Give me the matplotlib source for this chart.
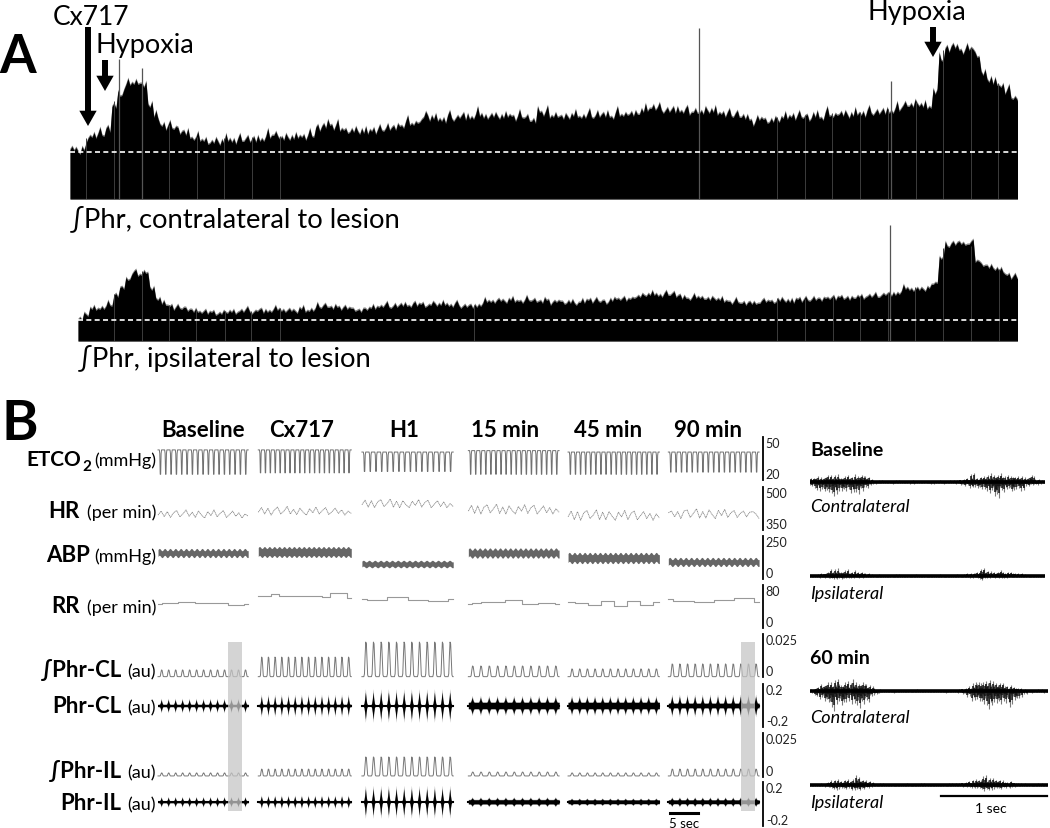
import numpy as np
import matplotlib
matplotlib.use('Agg')
import matplotlib.pyplot as plt

plt.rcParams['font.family'] = ['Lato', 'DejaVu Sans']

# Panel A, envelope heights of the two long integrated traces
env_cl = [53,50,52,65,66,67,72,95,106,115,118,119,116,97,85,76,74,74,70,68,64,62,61,59,60,59,62,60,61,62,
          62,61,63,65,67,63,64,63,65,64,66,73,75,77,74,72,70,71,70,69,71,70,72,74,73,76,78,77,80,86,
          83,82,81,84,82,86,83,85,87,84,86,85,84,86,83,85,83,80,90,88,85,86,84,85,86,84,86,85,87,86,
          85,87,86,88,87,90,92,94,92,90,92,90,91,88,90,89,91,90,88,87,86,87,84,82,78,83,80,81,82,84,
          85,84,85,83,86,84,87,85,88,87,86,88,87,89,88,90,89,91,92,97,96,98,95,94,110,142,152,155,152,
          150,153,146,128,122,118,115,110,104,98]
env_il = [24,28,34,34,35,38,47,55,63,70,68,71,54,44,39,37,34,35,33,32,31,30,31,29,30,31,30,32,32,30,
          33,31,32,34,32,33,31,34,32,33,36,37,35,36,34,35,33,32,34,35,36,37,36,37,38,37,38,39,37,39,
          38,39,37,38,36,37,36,38,42,41,43,41,43,42,41,43,42,41,43,39,42,40,41,39,41,43,41,42,40,43,
          44,43,44,46,47,48,49,47,48,49,47,45,44,46,45,44,44,43,42,40,41,39,40,39,41,42,41,43,42,41,
          44,42,43,44,43,45,44,46,45,44,46,45,47,46,47,49,48,50,55,53,54,53,55,60,85,97,99,100,98,
          100,82,78,76,74,72,68,65,65]
# small ripple along the top edge, one value every third of an envelope step
edge_cl = [-2,1,-3,3,-1,-4,2,-2,5,-3,0,-2,2,-4,1,6,-2,-3,0,3,-4,-1,2,-3,4,-2,-1,-4,1,7,-3,0,-2,2,-3]
edge_il = [-1,1,-2,2,0,-2,1,-1,3,-2,0,-1,1,-2,1,4,-1,-2,0,2,-2,0,1,-2,2,-1,0,-2,1,3,-2,0,-1,1,-2]
ticks_cl = [2.7,7.3,12,16.5,21.2,25.7,30.3,35,118,122.7,127.2,131.8,136.5,141.2,145.7,150.3,154.8]
ticks_il = [6,10.7,15.2,19.8,24.5,29,33.7,66.2,116.8,121.5,126.2,130.8,135.5,140,144.7,149.3,154]
spike_cl_x = [8.2,12,105,137]
spike_cl_top = [140,131,171,118]
spike_il_x = [135.8]
spike_il_top = [116]
dash_cl = 47
dash_il = 21

# Panel B, one entry per column
columns = ['Baseline','Cx717','H1','15 min','45 min','90 min']
seg_start = [0,17.9,36.4,55.4,73.2,91.1]
seg_end = [16.1,34.5,52.7,71.6,89.5,107.3]

etco2_top = [41,41,39.5,40.5,39.5,39.5]
etco2_low = [24,25,26,24,24,25.5]
etco2_n = [17,19,16,18,18,17]
etco2_shape = [0,0,0,0,0.15,1,1,0.15,0,0,0,0]

hr_baseline = [402,416,397,414,394,410,418,396,406,420,398,412,394,416,402,392,414,400,420,396,408,418,394,404,416,398,410,392,406,398]
hr_cx717 = [412,428,406,426,402,420,430,406,416,432,406,422,404,426,412,402,424,410,430,406,418,428,404,414,426,408,420,402,416,408]
hr_h1 = [438,454,430,452,428,448,456,432,442,458,430,450,428,452,438,428,450,436,456,430,446,454,428,440,452,432,448,428,442,432]
hr_15 = [416,436,408,434,406,430,438,410,424,440,408,430,406,434,418,406,432,416,438,408,428,436,406,420,434,410,428,406,424,412]
hr_45 = [396,416,386,414,384,410,418,390,402,420,386,412,386,414,398,384,412,396,418,386,408,416,386,400,414,390,408,384,406,392]
hr_90 = [410,416,396,414,390,416,420,394,408,424,392,414,392,420,404,390,418,400,422,394,410,418,394,408,416,396,412,414,406,390]
hr_traces = [hr_baseline,hr_cx717,hr_h1,hr_15,hr_45,hr_90]

abp_mean = [151,157,87,151,122,99]
abp_half = [20,26,17,23,26,20]
abp_swing = [7,6,5,7,7,7]
abp_n = [17,19,16,18,18,17]
abp_shape = [0,0.7,1,0.7,0,-0.7,-1,-0.7]

rr_baseline = [44,46,46,49,49,47,47,47,47,43,43,44]
rr_cx717 = [60,60,63,60,59,59,60,60,57,66,66,56]
rr_h1 = [54,52,52,58,58,53,53,50,50,54]
rr_15 = [45,46,48,48,48,52,52,44,44,46,46,45]
rr_45 = [48,46,43,50,41,50,43,48]
rr_90 = [54,50,50,48,48,52,52,56,56,48]
rr_traces = [rr_baseline,rr_cx717,rr_h1,rr_15,rr_45,rr_90]

breaths = [13,14,12,11,12,12]
int_shape = [0,0,0,0,0.08,0.6,1,0.95,0.5,0.05,0,0]
raw_shape = [0,0,0,0.1,0.45,1,0.45,0.1,0,0,0]

int_cl_floor = 0.0002
int_cl_peak = [0.0041,0.0116,0.0203,0.0064,0.0047,0.0076]
int_il_floor = 0.0006
int_il_peak = [0.0023,0.0045,0.0114,0.0028,0.0023,0.0045]

raw_cl_peak = [0.055,0.085,0.125,0.075,0.075,0.085]
raw_cl_floor = [0.01,0.01,0.007,0.028,0.028,0.02]
raw_il_peak = [0.04,0.05,0.12,0.036,0.028,0.036]
raw_il_floor = [0.008,0.008,0.005,0.018,0.016,0.016]
raw_il_zero = 0.02

band_start = [12.5,104.1]
band_end = [15,106.6]

# Right hand EMG traces, upper and lower reach every 5 px
base_cl_up = [4,7,5,8,7,8,6,7,6,8,8,6,3,2,2,1,1,2,1,1,2,1,1,2,1,1,2,1,2,2,3,4,10,5,6,8,9,8,9,7,8,6,7,5,8,3,2,2]
base_cl_low = [4,8,10,11,14,13,10,9,11,14,9,6,3,2,1,1,2,1,1,1,2,1,1,1,2,1,2,1,1,2,3,4,6,7,7,9,12,17,10,8,11,7,9,5,3,3,2,2]
base_il_up = [1,2,3,4,7,8,6,7,5,6,4,3,2,2,1,1,1,2,1,1,1,2,1,1,1,1,2,1,1,2,2,3,3,5,8,6,5,5,6,4,5,3,3,2,1,1,1,1]
base_il_low = [1,1,2,2,3,3,3,2,2,2,2,1,1,1,1,1,1,1,1,1,1,1,1,1,1,1,1,1,1,1,1,1,2,2,4,2,2,2,2,2,1,1,1,1,1,1,1,1]
m60_cl_up = [2,5,7,10,9,13,8,10,14,9,10,7,5,2,1,1,2,1,1,1,1,2,1,1,1,1,1,1,1,2,3,5,9,12,10,13,11,9,8,6,5,3,2,1,1,2,1,2]
m60_cl_low = [2,5,9,12,20,14,16,12,13,20,14,11,5,3,1,1,2,1,1,1,1,1,1,1,1,1,2,1,1,2,3,6,10,12,14,18,16,14,12,18,10,7,3,2,1,1,2,1]
m60_il_up = [1,1,2,3,5,6,5,6,7,11,6,5,3,2,2,1,2,1,1,2,1,1,2,1,1,1,1,2,2,2,3,4,6,7,10,8,7,6,5,4,3,2,2,1,1,2,1,1]
m60_il_low = [1,1,1,2,4,5,4,4,5,6,4,3,2,1,1,1,1,1,1,1,1,1,1,1,1,1,1,1,1,1,2,2,3,4,6,5,5,4,3,3,2,1,1,1,1,1,1,1]
# how far each single needle gets towards the reach
needle_up = [0.5,0.9,0.3,0.7,1,0.4,0.6,0.2,0.85,0.45,0.3,0.95,0.55,0.25,0.75,0.4,0.65]
needle_low = [0.7,0.3,0.95,0.5,0.25,0.8,0.4,1,0.35,0.6,0.9,0.2,0.7,0.45,0.3,0.85,0.55]

W, H = 1050, 829
fig = plt.figure(figsize=(W/100, H/100), dpi=100, facecolor='white')

def rect(l, t, r, b):
    return fig.add_axes([l/W, 1-b/H, (r-l)/W, (b-t)/H])

# Panel A
def long_trace(box, env, edge, ticks, spikes_x, spikes_top, dash, top):
    ax = rect(*box)
    x = np.arange(len(env))
    fine_x = np.arange(len(env)*3)/3
    fine_y = np.repeat(env, 3)+np.resize(edge, len(env)*3)
    ax.fill_between(fine_x, 0, fine_y, color='#808080', lw=0)
    ax.fill_between(fine_x, 0, fine_y-1.5, color='black', lw=0)
    ax.vlines(ticks, 0, np.interp(ticks, x, env), color='#3c3c3c', lw=0.7)
    ax.vlines(spikes_x, 0, spikes_top, color='#555555', lw=0.9)
    ax.axhline(dash, color='white', lw=1.2, ls=(0, (3, 2)))
    ax.axhline(0, color='#777777', lw=0.8)
    ax.set_xlim(0, len(env)-1)
    ax.set_ylim(0, top)
    ax.axis('off')

long_trace((70, 29, 1017, 200), env_cl, edge_cl, ticks_cl, spike_cl_x, spike_cl_top, dash_cl, 171)
long_trace((78, 226, 1017, 342), env_il, edge_il, ticks_il, spike_il_x, spike_il_top, dash_il, 116)

# Panel B
def row_axes(t, b, lo, hi):
    ax = rect(158, t, 763, b)
    ax.set_xlim(0, 108)
    ax.set_ylim(lo, hi)
    ax.patch.set_alpha(0)
    for side in ['top', 'left', 'bottom']:
        ax.spines[side].set_visible(False)
    ax.spines['right'].set_linewidth(1.3)
    ax.set_xticks([])
    ax.yaxis.tick_right()
    ax.set_yticks([lo, hi])
    ax.set_yticklabels([f'{lo:g}', f'{hi:g}'], fontsize=9, color='#222222')
    ax.tick_params(axis='y', length=0, pad=2)
    labels = ax.get_yticklabels()
    labels[0].set_va('bottom')
    labels[1].set_va('top')
    return ax

def cycles(i, shape, n):
    y = np.tile(shape, n)
    return np.linspace(seg_start[i], seg_end[i], len(y)), y

ax = row_axes(438, 481, 20, 50)
for i in range(6):
    x, s = cycles(i, etco2_shape, etco2_n[i])
    ax.plot(x, etco2_top[i]+(etco2_low[i]-etco2_top[i])*s, color='#707070', lw=0.7, clip_on=False)

ax = row_axes(488, 531, 350, 500)
for i in range(6):
    ax.plot(np.linspace(seg_start[i], seg_end[i], len(hr_traces[i])), hr_traces[i], color='#888888', lw=0.6,
            ls=(0, (1.5, 0.6)), clip_on=False)

ax = row_axes(537, 580, 0, 250)
for i in range(6):
    x, s = cycles(i, abp_shape, abp_n[i])
    wave = abp_mean[i]+abp_swing[i]*s
    ax.fill_between(x, wave-abp_half[i], wave+abp_half[i], color='#666666', lw=0)

ax = row_axes(586, 629, 0, 80)
for i in range(6):
    ax.step(np.linspace(seg_start[i], seg_end[i], len(rr_traces[i])), rr_traces[i], where='mid', color='#999999', lw=0.8)

def integrated(t, b, floor, peaks):
    ax = row_axes(t, b, 0, 0.025)
    for i in range(6):
        x, s = cycles(i, int_shape, breaths[i])
        ax.plot(x, floor+(peaks[i]-floor)*s, color='#777777', lw=0.7, clip_on=False)

def raw(t, b, peaks, floors, zero):
    ax = row_axes(t, b, -0.2, 0.2)
    for i in range(6):
        x, s = cycles(i, raw_shape, breaths[i])
        half = floors[i]+(peaks[i]-floors[i])*s
        ax.fill_between(x, zero-half*1.25, zero+half*1.25, color='#999999', lw=0)
        ax.fill_between(x, zero-half, zero+half, color='black', lw=0)
        ax.plot([seg_start[i], seg_end[i]], [zero, zero], color='black', lw=1.5)

integrated(635, 678, int_cl_floor, int_cl_peak)
raw(685, 728, raw_cl_peak, raw_cl_floor, 0)
integrated(734, 778, int_il_floor, int_il_peak)
raw(783, 827, raw_il_peak, raw_il_floor, raw_il_zero)

# grey windows over the phrenic rows
ax = rect(158, 643, 763, 812)
ax.set_xlim(0, 108)
ax.axis('off')
for a, b in zip(band_start, band_end):
    ax.axvspan(a, b, color='#c6c6c6', alpha=0.75, lw=0)

# EMG close ups
def emg(l, r, centre, up, low):
    ax = rect(l, centre-25, r, centre+25)
    x = np.arange(len(up)*5)/5
    top = np.repeat(up, 5)*np.resize(needle_up, len(x))
    bot = np.repeat(low, 5)*np.resize(needle_low, len(x))
    ax.vlines(x, -bot, top, color='#7a7a7a', lw=0.8)
    ax.vlines(x, -bot*0.7, top*0.7, color='#111111', lw=1.1)
    ax.axhline(0, color='black', lw=2.6)
    ax.set_xlim(0, len(up)-1)
    ax.set_ylim(-25, 25)
    ax.axis('off')

emg(810, 1045, 483, base_cl_up, base_cl_low)
emg(810, 1045, 577, base_il_up, base_il_low)
emg(810, 1048, 692, m60_cl_up, m60_cl_low)
emg(810, 1048, 786, m60_il_up, m60_il_low)

# Text and annotations in figure pixels
ov = fig.add_axes([0, 0, 1, 1])
ov.set_xlim(0, W)
ov.set_ylim(H, 0)
ov.axis('off')
ov.patch.set_alpha(0)

ov.text(-1, 73, 'A', fontsize=38, fontweight='bold', va='baseline')
ov.text(1, 440, 'B', fontsize=40, fontweight='bold', va='baseline')
ov.text(53, 25, 'Cx717', fontsize=19, va='baseline')
ov.text(96, 53, 'Hypoxia', fontsize=19.5, va='baseline')
ov.text(868, 20, 'Hypoxia', fontsize=19.5, va='baseline')
ov.text(70, 227, '∫Phr, contralateral to lesion', fontsize=19.7, va='baseline')
ov.text(78, 367, '∫Phr, ipsilateral to lesion', fontsize=19.7, va='baseline')

def arrow(x, y0, y1):
    ov.annotate('', xy=(x, y1), xytext=(x, y0),
                arrowprops=dict(facecolor='black', edgecolor='black', lw=0, width=4.3, headwidth=12.5, headlength=11, shrink=0))

arrow(88, 28, 127)
arrow(105, 61, 92)
arrow(933, 28, 58)

for name, cx in zip(columns, [203, 302, 404, 505, 608, 708]):
    ov.text(cx, 437, name, fontsize=16, fontweight='bold', ha='center', va='baseline')

row_names = ['HR','ABP','RR','∫Phr-CL','Phr-CL','∫Phr-IL','Phr-IL']
row_units = ['(per min)','(mmHg)','(per min)','(au)','(au)','(au)','(au)']
row_base = [518,562,613,677,713,778,810]
row_name_right = [80,90,80,121,121,121,121]
for name, unit, y, xr in zip(row_names, row_units, row_base, row_name_right):
    ov.text(xr, y, name, fontsize=16, fontweight='bold', ha='right', va='baseline')
    ov.text(156, y, unit, fontsize=13, ha='right', va='baseline')
ov.text(81, 466, 'ETCO', fontsize=15, fontweight='bold', ha='right', va='baseline')
ov.text(82, 471, '2', fontsize=11, fontweight='bold', va='baseline')
ov.text(156, 466, '(mmHg)', fontsize=13, ha='right', va='baseline')

ov.text(810, 456, 'Baseline', fontsize=14, fontweight='bold', va='baseline')
ov.text(810, 664, '60 min', fontsize=14, fontweight='bold', va='baseline')
for y, s in zip([512, 599, 723, 808], ['Contralateral', 'Ipsilateral', 'Contralateral', 'Ipsilateral']):
    ov.text(810, y, s, fontsize=13, fontstyle='italic', va='baseline')

ov.plot([670, 698], [814, 814], color='black', lw=2.2)
ov.text(684, 828, '5 sec', fontsize=9.5, ha='center', va='baseline')
ov.plot([941, 1047], [797, 797], color='black', lw=1.6)
ov.text(991, 813, '1 sec', fontsize=10, ha='center', va='baseline')

fig.savefig('out.png', dpi=100)
